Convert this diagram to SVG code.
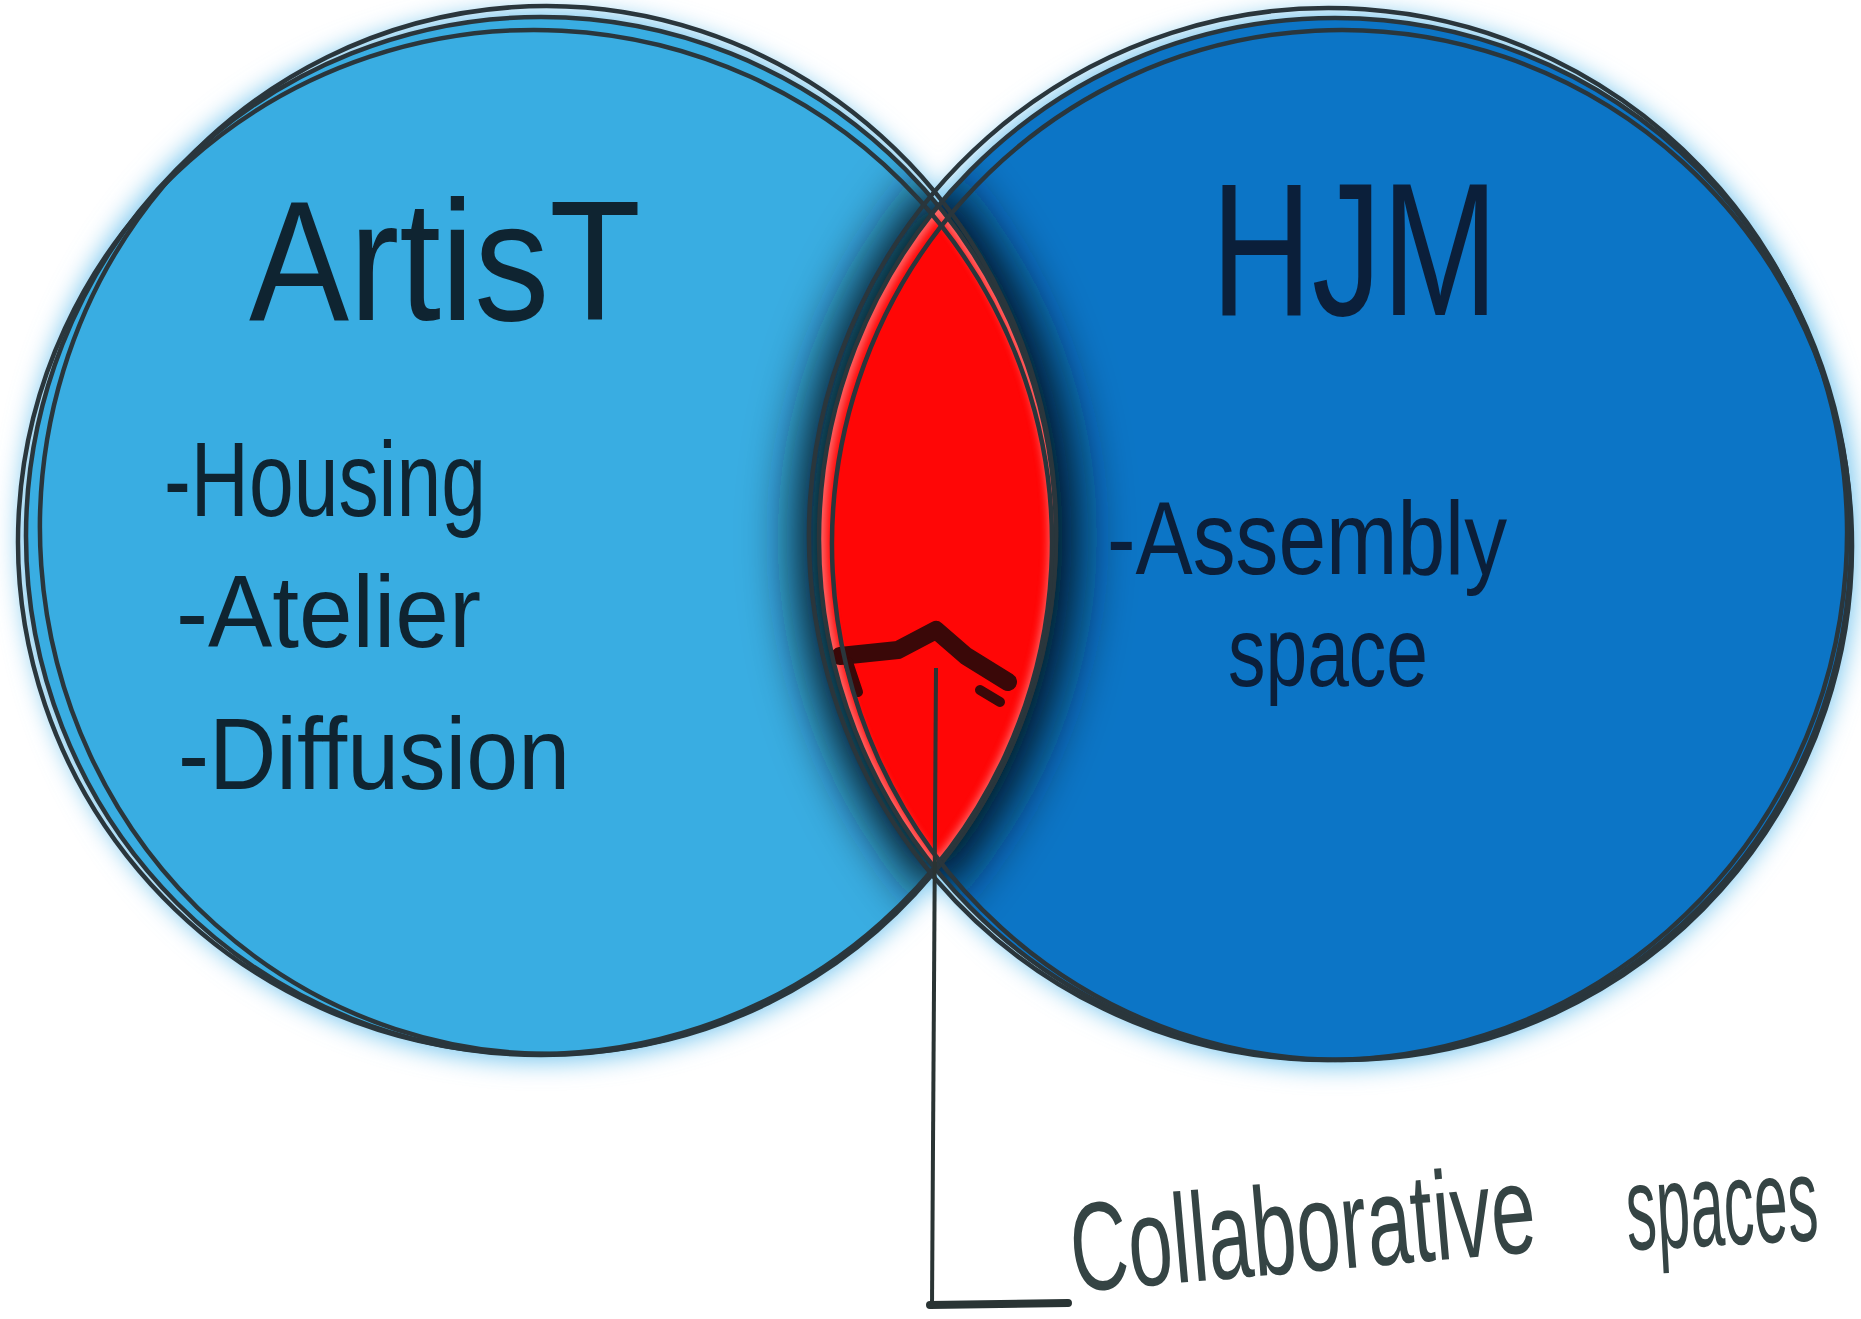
<svg xmlns="http://www.w3.org/2000/svg" width="1861" height="1319" viewBox="0 0 1861 1319">
  <style>
    .outline { fill: none; stroke: #2a363c; stroke-width: 4.5; }
    .hand { font-family: "Liberation Sans", Arial, sans-serif; fill: #0f2431; }
    .handR { font-family: "Liberation Sans", Arial, sans-serif; fill: #0b1f3a; }
    .lead { font-family: "Liberation Sans", Arial, sans-serif; fill: #354444; }
  </style>
  <defs>
    <filter id="halo" x="-10%" y="-10%" width="120%" height="120%">
      <feGaussianBlur stdDeviation="12"/>
    </filter>
    <filter id="shadow" x="-50%" y="-20%" width="200%" height="140%">
      <feGaussianBlur stdDeviation="26"/>
    </filter>
    <filter id="soft" x="-10%" y="-10%" width="120%" height="120%">
      <feGaussianBlur stdDeviation="4"/>
    </filter>
    <clipPath id="unionClip">
      <ellipse cx="541" cy="536" rx="515" ry="519"/>
      <ellipse cx="1335" cy="539" rx="516" ry="521"/>
    </clipPath>
    <clipPath id="lensClip">
      <path d="M 938 206 A 515 519 0 0 1 936 869 A 516 521 0 0 1 938 206 Z"/>
    </clipPath>
  </defs>

  <rect x="0" y="0" width="1861" height="1319" fill="#ffffff"/>

  <!-- soft light-blue halo around both circles -->
  <g filter="url(#halo)" fill="#7cc8ef">
    <ellipse cx="541" cy="536" rx="522" ry="526"/>
    <ellipse cx="1335" cy="539" rx="523" ry="528"/>
  </g>

  <g id="artist">
    <ellipse cx="541" cy="536" rx="515" ry="519" fill="#39ade2"/>
  </g>
  <g id="hjm">
    <ellipse cx="1335" cy="539" rx="516" ry="521" fill="#0c75c6"/>
  </g>

  <!-- dark shadow around the overlap -->
  <g clip-path="url(#unionClip)">
    <path d="M 938 206 A 515 519 0 0 1 936 869 A 516 521 0 0 1 938 206 Z" fill="#061424" stroke="#061424" stroke-width="48" filter="url(#shadow)"/>
  </g>

  <g id="overlap">
    <path d="M 938 206 A 515 519 0 0 1 936 869 A 516 521 0 0 1 938 206 Z" fill="#ff0606"/>
    <g clip-path="url(#lensClip)">
      <path d="M 938 206 A 515 519 0 0 1 936 869 A 516 521 0 0 1 938 206 Z" fill="none" stroke="#ff8080" stroke-width="14" filter="url(#soft)" opacity="0.8"/>
    </g>
    <!-- caret scribble -->
    <path d="M 840 656 L 898 650 L 936 630 L 966 656 L 1008 682" fill="none" stroke="#3a0808" stroke-width="18" stroke-linecap="round" stroke-linejoin="round"/>
    <path d="M 848 662 L 858 692" fill="none" stroke="#3a0808" stroke-width="10" stroke-linecap="round"/>
    <path d="M 980 690 L 1000 702" fill="none" stroke="#3a0808" stroke-width="10" stroke-linecap="round"/>
  </g>

  <!-- hand-drawn outlines -->
  <g id="outlines">
    <ellipse class="outline" cx="541" cy="536" rx="515" ry="519"/>
    <ellipse class="outline" cx="548" cy="530" rx="508" ry="524" transform="rotate(-4 548 530)"/>
    <ellipse class="outline" cx="535" cy="542" rx="517" ry="512" transform="rotate(3 535 542)"/>
    <ellipse class="outline" cx="1335" cy="539" rx="516" ry="521"/>
    <ellipse class="outline" cx="1328" cy="534" rx="519" ry="526" transform="rotate(4 1328 534)"/>
    <ellipse class="outline" cx="1342" cy="545" rx="510" ry="515" transform="rotate(-3 1342 545)"/>
  </g>

  <!-- labels -->
  <g id="artist-labels">
    <text class="hand" x="249" y="320" font-size="170" textLength="392" lengthAdjust="spacingAndGlyphs">ArtisT</text>
    <text class="hand" x="164" y="516" font-size="105" textLength="322" lengthAdjust="spacingAndGlyphs">-Housing</text>
    <text class="hand" x="176" y="647" font-size="102" textLength="305" lengthAdjust="spacingAndGlyphs">-Atelier</text>
    <text class="hand" x="178" y="789" font-size="102" textLength="392" lengthAdjust="spacingAndGlyphs">-Diffusion</text>
  </g>
  <g id="hjm-labels">
    <text class="handR" x="1211" y="315" font-size="190" textLength="287" lengthAdjust="spacingAndGlyphs">HJM</text>
    <text class="handR" font-size="104"><tspan x="1107" y="574" textLength="400" lengthAdjust="spacingAndGlyphs">-Assembly</tspan><tspan x="1228" y="686" font-size="98" textLength="200" lengthAdjust="spacingAndGlyphs">space</tspan></text>
  </g>

  <g id="connectors">
    <path d="M 936 668 L 932 1306" fill="none" stroke="#2a3434" stroke-width="4"/>
    <path d="M 930 1305 L 1068 1303" fill="none" stroke="#2a3434" stroke-width="8" stroke-linecap="round"/>
  </g>

  <g id="collaborative-label">
    <text class="lead" x="0" y="0" font-size="126" transform="translate(1074 1292) rotate(-5) scale(0.634 1)">Collaborative</text>
    <text class="lead" x="0" y="0" font-size="120" transform="translate(1628 1250) rotate(-3) scale(0.505 1)">spaces</text>
  </g>
</svg>
